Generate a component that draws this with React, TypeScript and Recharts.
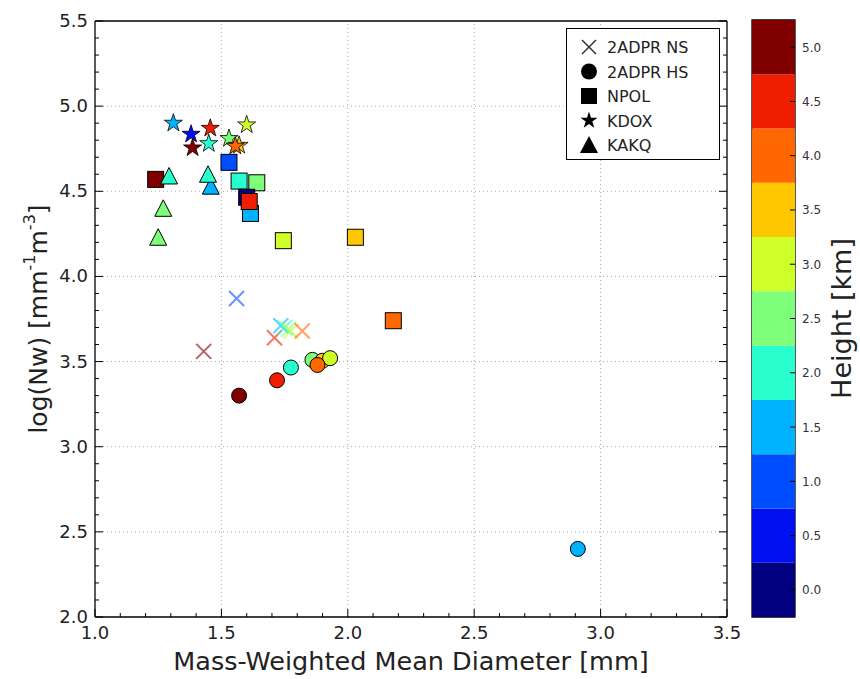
import React from 'react';
import {
  ScatterChart,
  Scatter,
  XAxis,
  YAxis,
  ReferenceLine,
  ReferenceArea,
  Legend,
  BarChart,
  Bar,
  Label,
} from 'recharts';

const FONT = '"DejaVu Sans", Verdana, sans-serif';

// ---- colour bar (height bins, km) ----
const heightLevels = [0.0, 0.5, 1.0, 1.5, 2.0, 2.5, 3.0, 3.5, 4.0, 4.5, 5.0];
const levelColors = [
  '#000080', '#0010f0', '#004dff', '#00b3ff', '#29ffce', '#7dff7a',
  '#ceff29', '#ffc700', '#ff6800', '#f01e00', '#800000',
];
const cbTicks = [0.25, 0.75, 1.25, 1.75, 2.25, 2.75, 3.25, 3.75, 4.25, 4.75, 5.25];

// ---- axes ----
const xTicks = [1.0, 1.1, 1.2, 1.3, 1.4, 1.5, 1.6, 1.7, 1.8, 1.9, 2.0, 2.1, 2.2, 2.3, 2.4, 2.5, 2.6, 2.7, 2.8, 2.9, 3.0, 3.1, 3.2, 3.3, 3.4, 3.5];
const yTicks = [2.0, 2.1, 2.2, 2.3, 2.4, 2.5, 2.6, 2.7, 2.8, 2.9, 3.0, 3.1, 3.2, 3.3, 3.4, 3.5, 3.6, 3.7, 3.8, 3.9, 4.0, 4.1, 4.2, 4.3, 4.4, 4.5, 4.6, 4.7, 4.8, 4.9, 5.0, 5.1, 5.2, 5.3, 5.4, 5.5];
const gridX = [1.5, 2.0, 2.5, 3.0];
const gridY = [2.5, 3.0, 3.5, 4.0, 4.5, 5.0];

// ---- series ----
const seriesNames = ['2ADPR NS', '2ADPR HS', 'NPOL', 'KDOX', 'KAKQ'];

// 2ADPR NS (x markers)
const nsD = [1.43, 1.56, 1.71, 1.735, 1.75, 1.765, 1.775, 1.82];
const nsNw = [3.56, 3.87, 3.64, 3.71, 3.70, 3.69, 3.68, 3.68];
const nsH = [5.0, 1.0, 4.5, 1.5, 2.0, 2.5, 3.0, 4.0];

// 2ADPR HS (circles)
const hsD = [1.57, 1.72, 1.775, 1.86, 1.90, 1.93, 1.88, 2.91];
const hsNw = [3.30, 3.39, 3.465, 3.51, 3.505, 3.52, 3.48, 2.40];
const hsH = [5.0, 4.5, 2.0, 2.5, 3.5, 3.0, 4.0, 1.5];

// NPOL (squares)
const npD = [1.24, 2.18, 2.03, 1.745, 1.53, 1.64, 1.57, 1.60, 1.615, 1.61];
const npNw = [4.57, 3.74, 4.23, 4.21, 4.67, 4.55, 4.56, 4.465, 4.37, 4.44];
const npH = [5.0, 4.0, 3.5, 3.0, 1.0, 2.5, 2.0, 0.0, 1.5, 4.5];

// KDOX (stars)
const kdD = [1.31, 1.38, 1.456, 1.386, 1.45, 1.60, 1.53, 1.57, 1.555];
const kdNw = [4.90, 4.835, 4.87, 4.755, 4.78, 4.89, 4.81, 4.77, 4.765];
const kdH = [1.5, 0.5, 4.5, 5.0, 2.0, 3.0, 2.5, 3.5, 4.0];

// KAKQ (triangles)
const kaD = [1.458, 1.293, 1.447, 1.27, 1.25];
const kaNw = [4.53, 4.59, 4.60, 4.40, 4.23];
const kaH = [1.5, 2.0, 2.0, 2.5, 2.5];

const toPoints = (d: number[], n: number[], h: number[]) =>
  d.map((x, i) => ({ x, y: n[i], h: h[i] }));

const colorFor = (h: number) => {
  const i = heightLevels.findIndex((l) => Math.abs(l - h) < 1e-6);
  return levelColors[i < 0 ? 0 : i];
};

const isMajor = (v: number) => Math.abs(v * 2 - Math.round(v * 2)) < 1e-6;

// ---- marker shapes ----
const starPoints = (cx: number, cy: number, R: number) => {
  const pts: string[] = [];
  for (let i = 0; i < 10; i++) {
    const a = (-90 + i * 36) * (Math.PI / 180);
    const r = i % 2 === 0 ? R : R * 0.382;
    pts.push(`${cx + r * Math.cos(a)},${cy + r * Math.sin(a)}`);
  }
  return pts.join(' ');
};

const XShape = (p: any) => {
  const { cx, cy, payload } = p;
  const c = colorFor(payload.h);
  const s = 7.5;
  return (
    <g opacity={0.6}>
      <line x1={cx - s} y1={cy - s} x2={cx + s} y2={cy + s} stroke={c} strokeWidth={2} />
      <line x1={cx - s} y1={cy + s} x2={cx + s} y2={cy - s} stroke={c} strokeWidth={2} />
    </g>
  );
};
const CircleShape = (p: any) => (
  <circle cx={p.cx} cy={p.cy} r={7.5} fill={colorFor(p.payload.h)} stroke="#000" strokeWidth={1} />
);
const SquareShape = (p: any) => (
  <rect x={p.cx - 8} y={p.cy - 8} width={16} height={16} fill={colorFor(p.payload.h)} stroke="#000" strokeWidth={1} />
);
const StarShape = (p: any) => (
  <polygon points={starPoints(p.cx, p.cy, 9.5)} fill={colorFor(p.payload.h)} stroke="#000" strokeWidth={0.8} />
);
const TriShape = (p: any) => (
  <polygon
    points={`${p.cx},${p.cy - 8.5} ${p.cx - 8.5},${p.cy + 8} ${p.cx + 8.5},${p.cy + 8}`}
    fill={colorFor(p.payload.h)}
    stroke="#000"
    strokeWidth={1}
  />
);

// ---- ticks ----
const tickText = { fontFamily: FONT, fontSize: 18, fill: '#222' };

const BottomTick = (p: any) => {
  const v = p.payload.value;
  const maj = isMajor(v);
  return (
    <g>
      <line x1={p.x} y1={p.y} x2={p.x} y2={p.y - (maj ? 8 : 4)} stroke="#000" strokeWidth={1} />
      {maj && (
        <text x={p.x} y={p.y + 22} textAnchor="middle" {...tickText}>
          {v.toFixed(1)}
        </text>
      )}
    </g>
  );
};
const TopTick = (p: any) => {
  const maj = isMajor(p.payload.value);
  return <line x1={p.x} y1={p.y} x2={p.x} y2={p.y + (maj ? 8 : 4)} stroke="#000" strokeWidth={1} />;
};
const LeftTick = (p: any) => {
  const v = p.payload.value;
  const maj = isMajor(v);
  return (
    <g>
      <line x1={p.x} y1={p.y} x2={p.x + (maj ? 8 : 4)} y2={p.y} stroke="#000" strokeWidth={1} />
      {maj && (
        <text x={p.x - 7} y={p.y + 6} textAnchor="end" {...tickText}>
          {v.toFixed(1)}
        </text>
      )}
    </g>
  );
};
const RightTick = (p: any) => {
  const maj = isMajor(p.payload.value);
  return <line x1={p.x} y1={p.y} x2={p.x - (maj ? 8 : 4)} y2={p.y} stroke="#000" strokeWidth={1} />;
};
const CbTick = (p: any) => {
  const v = p.payload.value - 0.25;
  return (
    <g>
      <line x1={p.x} y1={p.y} x2={p.x - 5} y2={p.y} stroke="#000" strokeWidth={1} />
      <text x={p.x + 7} y={p.y + 4.5} textAnchor="start" fontFamily={FONT} fontSize={12} fill="#333">
        {v.toFixed(1)}
      </text>
    </g>
  );
};

// ---- legend ----
const legendMarkers = ['x', 'circle', 'square', 'star', 'triangle'];
const LegendBox = () => {
  const w = 154;
  const h = 132;
  const rowH = 24.5;
  return (
    <svg width={w} height={h} style={{ display: 'block' }}>
      <rect x={0.5} y={0.5} width={w - 1} height={h - 1} fill="#fff" stroke="#000" strokeWidth={1} />
      {seriesNames.map((name, i) => {
        const cy = 19 + i * rowH;
        const cx = 23;
        const m = legendMarkers[i];
        let mk: React.ReactNode = null;
        if (m === 'x')
          mk = (
            <g stroke="#000" strokeWidth={1.5} opacity={0.8}>
              <line x1={cx - 7} y1={cy - 7} x2={cx + 7} y2={cy + 7} />
              <line x1={cx - 7} y1={cy + 7} x2={cx + 7} y2={cy - 7} />
            </g>
          );
        else if (m === 'circle') mk = <circle cx={cx} cy={cy} r={8} fill="#000" />;
        else if (m === 'square') mk = <rect x={cx - 8} y={cy - 8} width={16} height={16} fill="#000" />;
        else if (m === 'star') mk = <polygon points={starPoints(cx, cy, 9)} fill="#000" />;
        else mk = <polygon points={`${cx},${cy - 9} ${cx - 9},${cy + 8} ${cx + 9},${cy + 8}`} fill="#000" />;
        return (
          <g key={name}>
            {mk}
            <text x={41} y={cy + 6} fontFamily={FONT} fontSize={16} fill="#222">
              {name}
            </text>
          </g>
        );
      })}
    </svg>
  );
};

const YTitle = (p: any) => {
  const vb = p.viewBox || { x: 35, y: 21, width: 60, height: 596 };
  const x = vb.x + 3;
  const y = vb.y + vb.height / 2;
  return (
    <text
      x={x}
      y={y}
      transform={`rotate(-90, ${x}, ${y})`}
      textAnchor="middle"
      dominantBaseline="central"
      fontFamily={FONT}
      fontSize={25}
      fill="#222"
    >
      log(Nw) [mm
      <tspan dy={-9} fontSize={16}>-1</tspan>
      <tspan dy={9}>m</tspan>
      <tspan dy={-9} fontSize={16}>-3</tspan>
      <tspan dy={9}>]</tspan>
    </text>
  );
};

const XTitle = (p: any) => {
  const vb = p.viewBox || { x: 95, y: 617, width: 632, height: 50 };
  return (
    <text x={vb.x + vb.width / 2} y={vb.y + 53} textAnchor="middle" fontFamily={FONT} fontSize={25.5} fill="#222">
      Mass-Weighted Mean Diameter [mm]
    </text>
  );
};

const CbTitle = (p: any) => {
  const vb = p.viewBox || { x: 55, y: 20, width: 55, height: 597 };
  const x = vb.x + 46;
  const y = vb.y + vb.height / 2;
  return (
    <text
      x={x}
      y={y}
      transform={`rotate(-90, ${x}, ${y})`}
      textAnchor="middle"
      dominantBaseline="central"
      fontFamily={FONT}
      fontSize={27}
      fill="#222"
    >
      Height [km]
    </text>
  );
};

const cbRow: Record<string, number | string> = { name: 'cb' };
heightLevels.forEach((_, i) => {
  cbRow[`b${i}`] = 0.5;
});
const cbData = [cbRow];

export default function App() {
  const ns = toPoints(nsD, nsNw, nsH);
  const hs = toPoints(hsD, hsNw, hsH);
  const np = toPoints(npD, npNw, npH);
  const kd = toPoints(kdD, kdNw, kdH);
  const ka = toPoints(kaD, kaNw, kaH);
  const axisLine = { stroke: '#000', strokeWidth: 1.3 };

  return (
    <div style={{ position: 'absolute', left: 0, top: 0, width: 860, height: 679, background: '#fff', fontFamily: FONT }}>
      <div style={{ position: 'absolute', left: 0, top: 0 }}>
        <ScatterChart width={740} height={679} margin={{ top: 20, right: 12, bottom: 12, left: 35 }}>
          <XAxis
            dataKey="x"
            type="number"
            domain={[1, 3.5]}
            ticks={xTicks}
            interval={0}
            allowDataOverflow
            height={50}
            tickSize={0}
            tickMargin={0}
            axisLine={axisLine}
            tick={<BottomTick />}
          >
            <Label content={<XTitle />} />
          </XAxis>
          <XAxis
            xAxisId="top"
            orientation="top"
            type="number"
            domain={[1, 3.5]}
            ticks={xTicks}
            interval={0}
            allowDataOverflow
            height={1}
            tickSize={0}
            tickMargin={0}
            axisLine={axisLine}
            tick={<TopTick />}
          />
          <YAxis
            dataKey="y"
            type="number"
            domain={[2, 5.5]}
            ticks={yTicks}
            interval={0}
            allowDataOverflow
            width={60}
            tickSize={0}
            tickMargin={0}
            axisLine={axisLine}
            tick={<LeftTick />}
          >
            <Label content={<YTitle />} />
          </YAxis>
          <YAxis
            yAxisId="right"
            orientation="right"
            type="number"
            domain={[2, 5.5]}
            ticks={yTicks}
            interval={0}
            allowDataOverflow
            width={1}
            tickSize={0}
            tickMargin={0}
            axisLine={axisLine}
            tick={<RightTick />}
          />
          {gridX.map((g) => (
            <ReferenceLine key={`gx${g}`} x={g} stroke="#aaa" strokeDasharray="1 3" strokeWidth={1} />
          ))}
          {gridY.map((g) => (
            <ReferenceLine key={`gy${g}`} y={g} stroke="#aaa" strokeDasharray="1 3" strokeWidth={1} />
          ))}
          <Scatter name={seriesNames[0]} data={ns} shape={XShape} isAnimationActive={false} />
          <Scatter name={seriesNames[1]} data={hs} shape={CircleShape} isAnimationActive={false} />
          <Scatter name={seriesNames[2]} data={np} shape={SquareShape} isAnimationActive={false} />
          <Scatter name={seriesNames[3]} data={kd} shape={StarShape} isAnimationActive={false} />
          <Scatter name={seriesNames[4]} data={ka} shape={TriShape} isAnimationActive={false} />
          <Legend
            layout="horizontal"
            verticalAlign="middle"
            align="center"
            wrapperStyle={{ position: 'absolute', left: 566, top: 28, width: 154, height: 132, margin: 0 }}
            content={() => <LegendBox />}
          />
        </ScatterChart>
      </div>
      <div style={{ position: 'absolute', left: 740, top: 0 }}>
        <BarChart
          width={120}
          height={679}
          data={cbData}
          margin={{ top: 20, right: 10, bottom: 62, left: 12 }}
          barCategoryGap={0}
          barGap={0}
        >
          <XAxis dataKey="name" hide />
          <YAxis
            orientation="right"
            type="number"
            domain={[0, 5.5]}
            ticks={cbTicks}
            interval={0}
            width={55}
            tickSize={0}
            tickMargin={0}
            axisLine={false}
            tick={<CbTick />}
          >
            <Label content={<CbTitle />} />
          </YAxis>
          {heightLevels.map((l, i) => (
            <Bar key={`b${i}`} dataKey={`b${i}`} stackId="cb" fill={levelColors[i]} isAnimationActive={false} />
          ))}
          <ReferenceArea y1={0} y2={5.5} fill="none" stroke="#000" strokeWidth={1.3} ifOverflow="visible" />
        </BarChart>
      </div>
    </div>
  );
}
